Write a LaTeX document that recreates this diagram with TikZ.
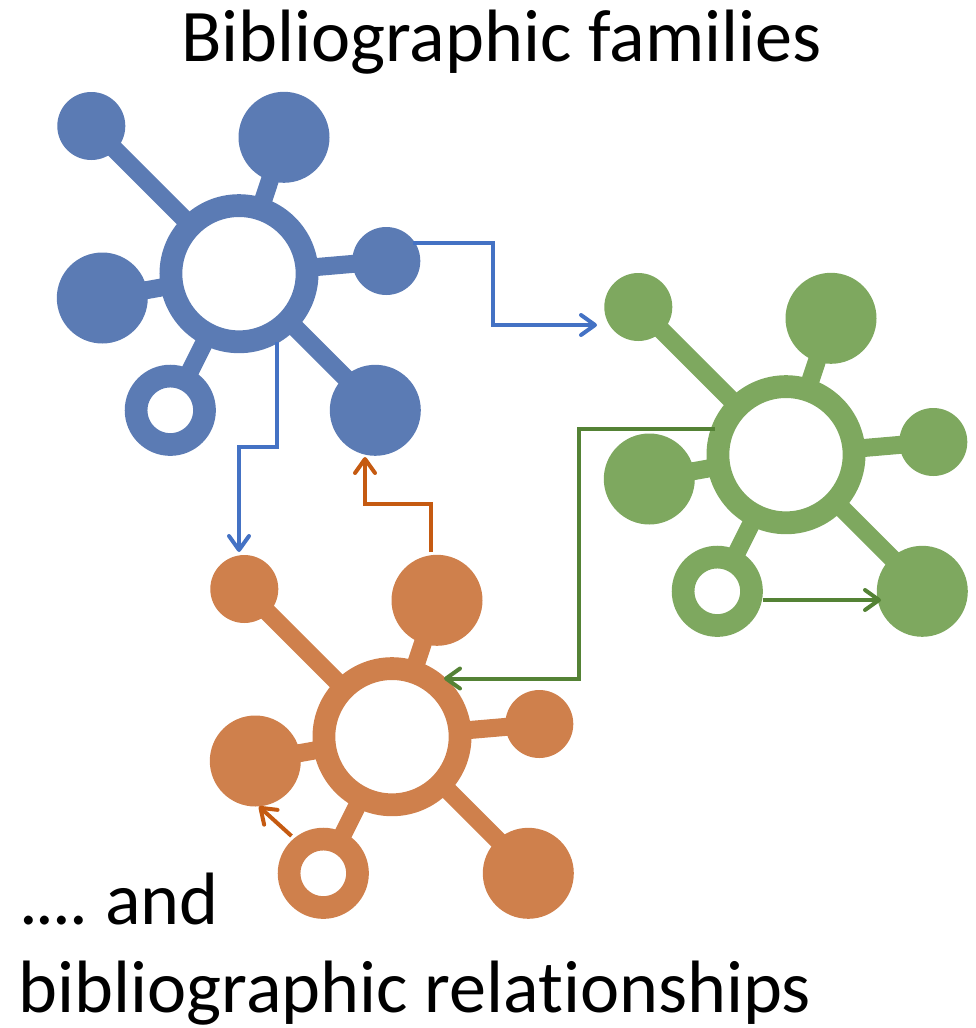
\documentclass[tikz,border=0pt]{standalone}
\usepackage{fontspec}
\setmainfont{Carlito}
\usetikzlibrary{arrows.meta,backgrounds}
\definecolor{fblue}{HTML}{5B7BB4}
\definecolor{fgreen}{HTML}{7EA85F}
\definecolor{forange}{HTML}{CF804C}
\definecolor{lblue}{HTML}{4472C4}
\definecolor{lgreen}{HTML}{548235}
\definecolor{lorange}{HTML}{C55A11}
\tikzset{
  smallsat/.style={circle,fill=#1,inner sep=0pt,minimum size=68pt},
  bigsat/.style={circle,fill=#1,inner sep=0pt,minimum size=91pt},
  ringsat/.style={circle,draw=#1,fill=white,line width=22.7pt,inner sep=0pt,minimum size=68.4pt},
  hubring/.style={circle,draw=#1,fill=white,line width=22.8pt,inner sep=0pt,minimum size=136.2pt},
  spoke/.style={draw=#1,line width=18pt},
  link/.style={draw=#1,line width=4pt,-{Straight Barb[length=14pt,width=20pt,line width=4pt,round]}},
  txt/.style={inner sep=0pt,anchor=base west,font=\fontsize{74.2}{74.2}\selectfont},
}
% prefix, cx, cy, colour
\newcommand{\molecule}[4]{%
  \begin{scope}[shift={(#2,#3)}]
    \node[hubring=#4]  (#1hub) at (0,0) {};
    \node[smallsat=#4] (#1tl)  at (-147.7,-147.7) {};
    \node[bigsat=#4]   (#1t)   at (45,-136.4) {};
    \node[smallsat=#4] (#1r)   at (147.3,-12.7) {};
    \node[bigsat=#4]   (#1l)   at (-136.7,24.3) {};
    \node[ringsat=#4]  (#1b)   at (-68.7,136.6) {};
    \node[bigsat=#4]   (#1br)  at (136.3,136.6) {};
    \begin{pgfonlayer}{background}
      \draw[spoke=#4] (#1hub.center) -- (#1tl.center);
      \draw[spoke=#4] (#1hub.center) -- (#1t.center);
      \draw[spoke=#4] (#1hub.center) -- (#1r.center);
      \draw[spoke=#4] (#1hub.center) -- (#1l.center);
      \draw[spoke=#4] (#1hub.center) -- (#1b.center);
      \draw[spoke=#4] ([xshift=2.5pt]#1hub.center) -- ([xshift=2.5pt]#1br.center);
    \end{pgfonlayer}
  \end{scope}}
\begin{document}
\begin{tikzpicture}[x=1pt,y=-1pt]
  \useasboundingbox (0,0) rectangle (976,1028);
  \molecule{b}{239}{273.7}{fblue}
  \molecule{g}{786}{454.7}{fgreen}
  \molecule{o}{392}{736.7}{forange}

  \coordinate (s1) at (413,243);
  \coordinate (e1) at (597,325);
  \coordinate (m1) at (492.5,284);
  \draw[link=lblue] (s1) -| (m1) |- (e1);

  \coordinate (s2) at (277,342);
  \coordinate (e2) at (239,552);
  \coordinate (m2) at (258,447);
  \draw[link=lblue] (s2) |- (m2) -| (e2);

  \coordinate (s3) at (430.5,552);
  \coordinate (e3) at (365,457);
  \coordinate (m3) at (398,504);
  \draw[link=lorange] (s3) |- (m3) -| (e3);

  \coordinate (s4) at (715,429);
  \coordinate (e4) at (444,678.5);
  \coordinate (m4) at (579,550);
  \draw[link=lgreen] (s4) -| (m4) |- (e4);

  \coordinate (s5) at (763,600);
  \coordinate (e5) at (881,600);
  \draw[link=lgreen] (s5) -- (e5);

  \coordinate (s6) at (291.5,836);
  \coordinate (e6) at (259,806.5);
  \draw[link=lorange] (s6) -- (e6);

  \node[txt] (title) at (181,61) {Bibliographic families};
  \node[txt] (and) at (19,924.5) {.\kern-2pt.\kern-2pt.\kern-2pt.\kern-5pt{} and};
  \node[txt] (rel) at (18.5,1012.5) {bibliographic relat\kern0pt ionships};
\end{tikzpicture}
\end{document}
